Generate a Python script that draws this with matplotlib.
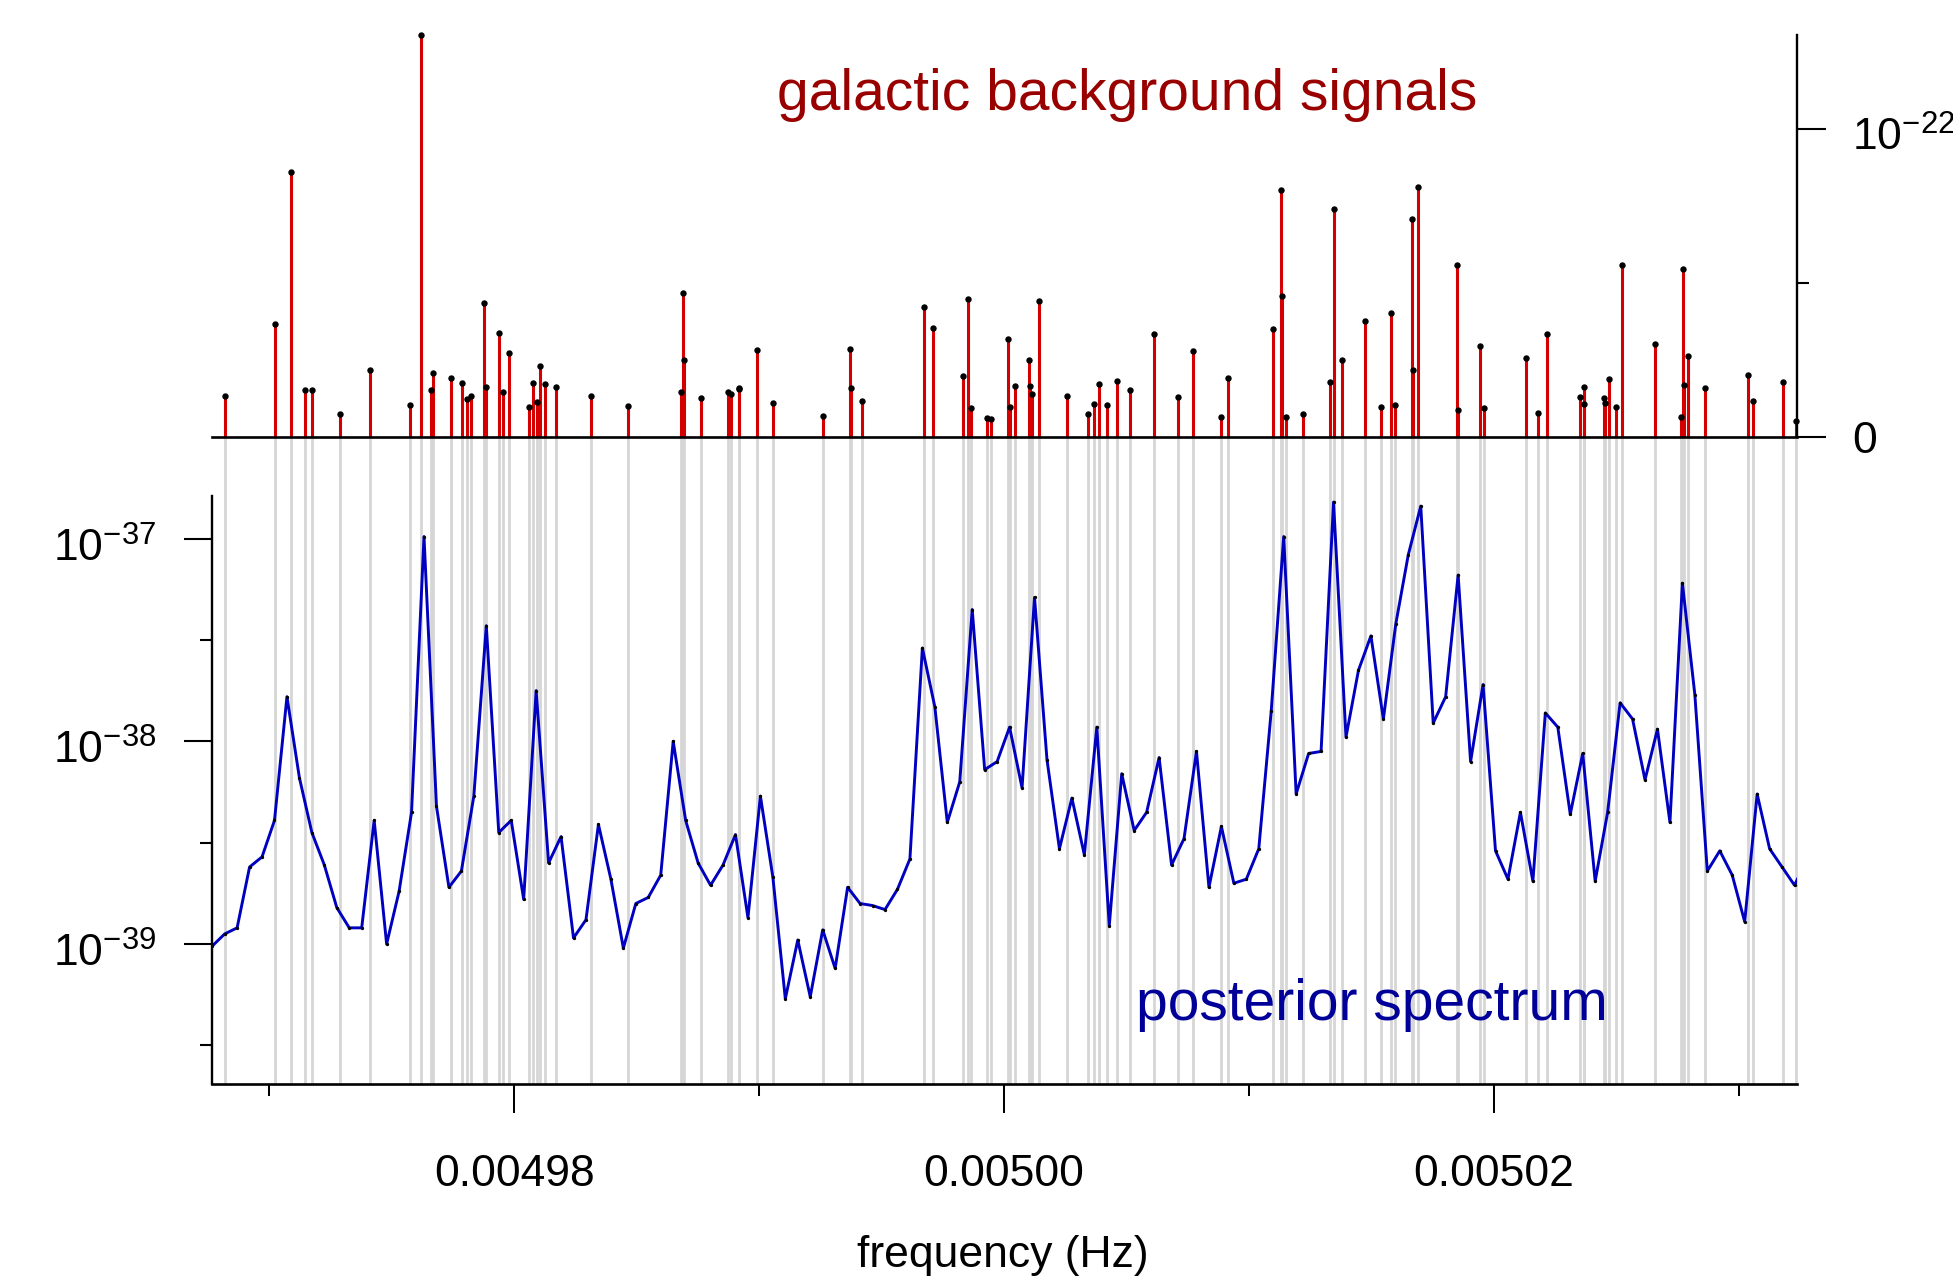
import matplotlib
matplotlib.use('Agg')
import matplotlib.pyplot as plt
from matplotlib.ticker import FixedLocator, FixedFormatter, NullFormatter
from matplotlib.transforms import ScaledTranslation
import numpy as np

plt.rcParams['font.family'] = ['Liberation Sans', 'DejaVu Sans']
plt.rcParams['mathtext.fontset'] = 'custom'
plt.rcParams['mathtext.rm'] = 'Liberation Sans'
plt.rcParams['mathtext.it'] = 'Liberation Sans:italic'
plt.rcParams['mathtext.default'] = 'regular'

# posterior spectrum: regular frequency grid, log10 of power per bin
spec_f0 = 0.00496767      # Hz, first bin
spec_df = 5.087e-7        # Hz, bin width
spec_log10 = [
    -39.01, -38.95, -38.92, -38.62, -38.57, -38.39, -37.78, -38.18, -38.45, -38.61,
    -38.82, -38.92, -38.92, -38.39, -39.00, -38.74, -38.35, -36.99, -38.32, -38.72,
    -38.64, -38.27, -37.43, -38.45, -38.39, -38.78, -37.75, -38.60, -38.47, -38.97,
    -38.88, -38.41, -38.68, -39.02, -38.80, -38.77, -38.66, -38.00, -38.39, -38.60,
    -38.71, -38.61, -38.46, -38.87, -38.27, -38.67, -39.27, -38.98, -39.26, -38.93,
    -39.12, -38.72, -38.80, -38.81, -38.83, -38.73, -38.58, -37.54, -37.83, -38.40,
    -38.20, -37.35, -38.14, -38.10, -37.93, -38.23, -37.29, -38.09, -38.53, -38.28,
    -38.56, -37.93, -38.91, -38.16, -38.44, -38.35, -38.08, -38.61, -38.48, -38.05,
    -38.72, -38.42, -38.70, -38.68, -38.53, -37.85, -36.99, -38.26, -38.06, -38.05,
    -36.82, -37.98, -37.65, -37.48, -37.89, -37.42, -37.08, -36.84, -37.91, -37.78,
    -37.18, -38.10, -37.72, -38.54, -38.68, -38.35, -38.69, -37.86, -37.93, -38.36,
    -38.06, -38.69, -38.35, -37.81, -37.89, -38.19, -37.94, -38.40, -37.22, -37.77,
    -38.64, -38.54, -38.66, -38.89, -38.26, -38.53, -38.62, -38.71, -38.58,
]

# galactic background signals: frequency (Hz) and amplitude (units of 1e-22)
sig_freq = [
    0.00496820, 0.00497024, 0.00497089, 0.00497144, 0.00497174, 0.00497287, 0.00497411,
    0.00497576, 0.00497621, 0.00497660, 0.00497668, 0.00497743, 0.00497787, 0.00497806,
    0.00497825, 0.00497877, 0.00497885, 0.00497938, 0.00497953, 0.00497979, 0.00498059,
    0.00498078, 0.00498094, 0.00498107, 0.00498127, 0.00498172, 0.00498314, 0.00498466,
    0.00498682, 0.00498690, 0.00498693, 0.00498764, 0.00498874, 0.00498884, 0.00498917,
    0.00498919, 0.00498993, 0.00499058, 0.00499262, 0.00499372, 0.00499374, 0.00499419,
    0.00499675, 0.00499710, 0.00499834, 0.00499852, 0.00499866, 0.00499932, 0.00499946,
    0.00500018, 0.00500025, 0.00500045, 0.00500103, 0.00500105, 0.00500116, 0.00500142,
    0.00500259, 0.00500344, 0.00500369, 0.00500388, 0.00500422, 0.00500463, 0.00500515,
    0.00500613, 0.00500711, 0.00500771, 0.00500887, 0.00500915, 0.00501097, 0.00501131,
    0.00501134, 0.00501152, 0.00501222, 0.00501330, 0.00501348, 0.00501379, 0.00501474,
    0.00501538, 0.00501579, 0.00501598, 0.00501667, 0.00501669, 0.00501692, 0.00501850,
    0.00501852, 0.00501944, 0.00501961, 0.00502130, 0.00502179, 0.00502218, 0.00502352,
    0.00502366, 0.00502369, 0.00502450, 0.00502454, 0.00502468, 0.00502497, 0.00502523,
    0.00502658, 0.00502765, 0.00502771, 0.00502778, 0.00502791, 0.00502862, 0.00503036,
    0.00503056, 0.00503180, 0.00503233,
]
sig_amp = [
    0.133, 0.364, 0.858, 0.151, 0.150, 0.072, 0.215,
    0.101, 1.303, 0.151, 0.207, 0.190, 0.175, 0.122,
    0.131, 0.432, 0.162, 0.335, 0.143, 0.270, 0.097,
    0.175, 0.111, 0.229, 0.172, 0.161, 0.133, 0.100,
    0.146, 0.465, 0.249, 0.124, 0.143, 0.137, 0.159,
    0.153, 0.281, 0.108, 0.067, 0.284, 0.156, 0.114,
    0.422, 0.351, 0.195, 0.445, 0.091, 0.060, 0.057,
    0.317, 0.095, 0.165, 0.248, 0.164, 0.137, 0.439,
    0.133, 0.073, 0.104, 0.170, 0.101, 0.181, 0.152,
    0.332, 0.129, 0.279, 0.064, 0.190, 0.348, 0.800,
    0.456, 0.065, 0.074, 0.178, 0.739, 0.247, 0.374,
    0.096, 0.400, 0.103, 0.706, 0.215, 0.811, 0.557,
    0.085, 0.294, 0.093, 0.255, 0.075, 0.332, 0.128,
    0.161, 0.104, 0.125, 0.108, 0.188, 0.096, 0.556,
    0.301, 0.063, 0.544, 0.166, 0.262, 0.159, 0.199,
    0.115, 0.178, 0.050,
]

x_major = [0.00498, 0.00500, 0.00502]
x_major_labels = ['0.00498', '0.00500', '0.00502']
x_minor = [0.00497, 0.00499, 0.00501, 0.00503]
y_major = [1e-37, 1e-38, 1e-39]
y_major_labels = [r'$10^{-37}$', r'$10^{-38}$', r'$10^{-39}$']
y_minor = [10 ** -37.5, 10 ** -38.5, 10 ** -39.5]
top_major = [0, 1e-22]
top_major_labels = ['0', r'$10^{-22}$']
top_minor = [5e-23]

spec_freq = spec_f0 + spec_df * np.arange(len(spec_log10))
spec_power = 10.0 ** np.array(spec_log10)
sig_freq = np.array(sig_freq)
sig_amp = np.array(sig_amp) * 1e-22

xlim = (0.00496765, 0.00503239)

fig = plt.figure(figsize=(19.53, 12.76), dpi=100)

# lower panel first so that the upper panel's baseline is drawn over the grey lines
ax = fig.add_axes([0.1084, 0.1505, 0.8119, 0.4608])
ax_top = fig.add_axes([0.1084, 0.6579, 0.8119, 0.3147])

# ---- posterior spectrum
ax.vlines(sig_freq, 0, 1.106, transform=ax.get_xaxis_transform(),
          colors='#d6d6d6', lw=2.0, clip_on=False, zorder=0.5)
ax.plot(spec_freq, spec_power, color='#0000c0', lw=2.1, zorder=2)
ax.plot(spec_freq, spec_power, 'o', color='black', ms=2.4, mew=0, zorder=3)
ax.set_yscale('log')
ax.set_xlim(xlim)
ax.set_ylim(10 ** -39.69, 10 ** -36.79)

ax.yaxis.set_major_locator(FixedLocator(y_major))
ax.yaxis.set_major_formatter(NullFormatter())
ax.yaxis.set_minor_locator(FixedLocator(y_minor))
ax.yaxis.set_minor_formatter(NullFormatter())
ax.tick_params(axis='y', which='major', length=20.4, width=1.5)
ax.tick_params(axis='y', which='minor', length=8.4, width=1.5)
# R-style labels: whole expression centred on the tick
left_off = ax.get_yaxis_transform() + ScaledTranslation(-0.555, -0.227, fig.dpi_scale_trans)
for v, lab in zip(y_major, y_major_labels):
    ax.text(0, v, lab, transform=left_off, ha='right', va='baseline', fontsize=32)

ax.xaxis.set_major_locator(FixedLocator(x_major))
ax.xaxis.set_major_formatter(FixedFormatter(x_major_labels))
ax.xaxis.set_minor_locator(FixedLocator(x_minor))
ax.xaxis.set_minor_formatter(NullFormatter())
ax.tick_params(axis='x', which='major', length=20.9, width=1.45, pad=29.5, labelsize=32)
ax.tick_params(axis='x', which='minor', length=8.6, width=1.45)

for s in ['top', 'right']:
    ax.spines[s].set_visible(False)
ax.spines['left'].set_linewidth(1.7)
ax.spines['bottom'].set_linewidth(1.9)

fig.text(0.7022, 0.2010, 'posterior spectrum', color='#000099',
         fontsize=41, ha='center', va='baseline')
fig.text(0.5134, 0.0074, 'frequency (Hz)', fontsize=32, ha='center', va='baseline')

# ---- galactic background signals
ax_top.vlines(sig_freq, 0, sig_amp, colors='#d40000', lw=2.2, zorder=2)
ax_top.plot(sig_freq, sig_amp, 'o', color='black', ms=4.6, mew=0, zorder=3, clip_on=False)
ax_top.set_xlim(xlim)
ax_top.set_ylim(0, 1.304e-22)
ax_top.set_xticks([])
ax_top.yaxis.tick_right()
ax_top.yaxis.set_major_locator(FixedLocator(top_major))
ax_top.yaxis.set_major_formatter(NullFormatter())
ax_top.yaxis.set_minor_locator(FixedLocator(top_minor))
ax_top.yaxis.set_minor_formatter(NullFormatter())
ax_top.tick_params(axis='y', which='major', length=20.6, width=1.5)
ax_top.tick_params(axis='y', which='minor', length=8.6, width=1.5)
for v, lab, dy in zip(top_major, top_major_labels, [0.168, 0.224]):
    off = ax_top.get_yaxis_transform() + ScaledTranslation(0.547, -dy, fig.dpi_scale_trans)
    ax_top.text(1, v, lab, transform=off, ha='left', va='baseline', fontsize=32)
for s in ['top', 'left']:
    ax_top.spines[s].set_visible(False)
ax_top.spines['right'].set_linewidth(1.7)
ax_top.spines['bottom'].set_linewidth(1.9)

fig.text(0.5769, 0.9138, 'galactic background signals', color='#990000',
         fontsize=41, ha='center', va='baseline')

fig.savefig('out.png', dpi=100)
